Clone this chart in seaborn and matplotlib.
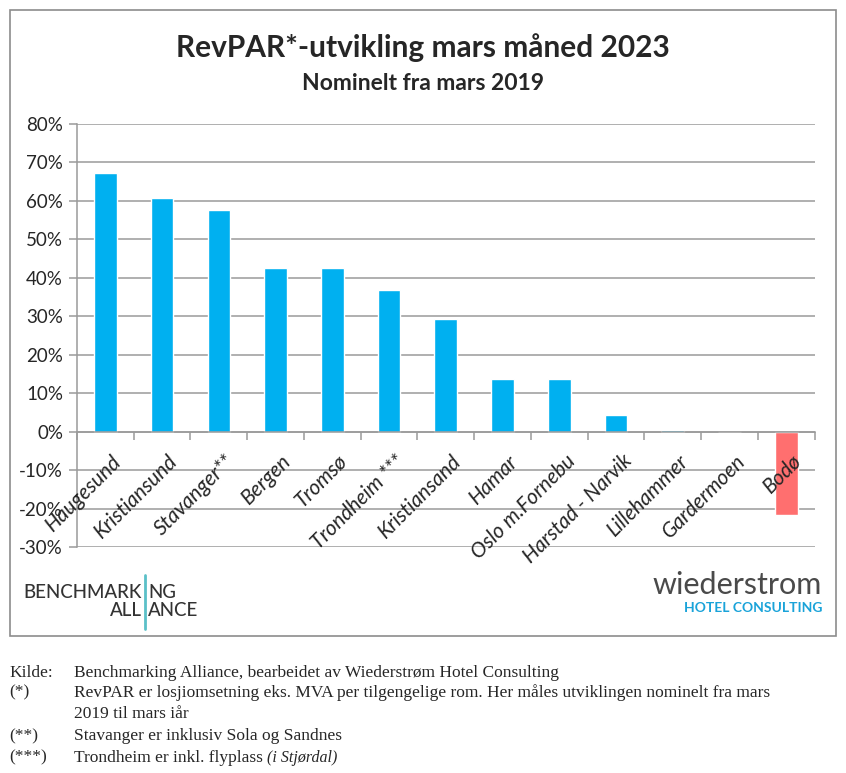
import matplotlib.pyplot as plt
import matplotlib.patches as patches
import matplotlib.transforms as mtrans
from matplotlib.ticker import FuncFormatter, FixedLocator
import seaborn as sns
import pandas as pd
import numpy as np

# data
byer = ['Haugesund', 'Kristiansund', 'Stavanger**', 'Bergen', 'Tromsø', 'Trondheim ***',
        'Kristiansand', 'Hamar', 'Oslo m.Fornebu', 'Harstad - Narvik', 'Lillehammer',
        'Gardermoen', 'Bodø']
revpar_endring = [67.3, 60.8, 57.6, 42.6, 42.5, 36.8, 29.3, 13.7, 13.7, 4.3, 0.3, 0.0, -21.8]
y_ticks = [-30, -20, -10, 0, 10, 20, 30, 40, 50, 60, 70, 80]

sns.set_theme(style='white')
plt.rcParams['font.family'] = ['Lato', 'DejaVu Sans']

df = pd.DataFrame({'by': byer, 'endring': revpar_endring})
df['fortegn'] = np.where(df['endring'] < 0, 'neg', 'pos')

fig = plt.figure(figsize=(8.46, 7.73), dpi=100)
ax = fig.add_axes([0.091, 0.2924, 0.872, 0.5472])

sns.barplot(data=df, x='by', y='endring', hue='fortegn',
            palette={'pos': '#00B0F0', 'neg': '#FF6F6F'},
            dodge=False, width=0.4, legend=False, saturation=1, ax=ax)

ax.set_ylim(-30, 80)
ax.set_xlim(-0.5, len(byer) - 0.5)
ax.set_yticks(y_ticks)
ax.yaxis.set_major_formatter(FuncFormatter(lambda v, p: f'{v:.0f}%'))
ax.yaxis.grid(True, color='#9a9a9a', linewidth=1.1)
ax.set_axisbelow(True)
ax.set_xlabel('')
ax.set_ylabel('')

for s in ['top', 'right']:
    ax.spines[s].set_visible(False)
ax.spines['left'].set_color('#9a9a9a')
ax.spines['bottom'].set_color('#9a9a9a')
ax.spines['bottom'].set_position(('data', 0))
ax.spines['bottom'].set_linewidth(1.1)
ax.spines['left'].set_linewidth(1.1)

# ticks at category boundaries on the zero line
ax.xaxis.set_major_locator(FixedLocator(np.arange(len(byer) + 1) - 0.5))
ax.set_xticklabels([])
ax.tick_params(axis='x', length=6, color='#9a9a9a', width=1.1, direction='out', bottom=True)
ax.tick_params(axis='y', length=6, color='#9a9a9a', width=1.1, left=True, labelsize=13.5, pad=4)

# category labels drawn on top of the bars (like Excel)
lab_tr = mtrans.offset_copy(ax.transData, fig=fig, x=4, y=-14, units='points')
for i, navn in enumerate(byer):
    ax.text(i, 0, navn, transform=lab_tr, rotation=45, ha='right', va='top',
            rotation_mode='anchor', fontsize=15, fontstyle='italic', zorder=5)

# titles
fig.text(0.5, 0.939, 'RevPAR*-utvikling mars måned 2023', ha='center', va='center',
         fontsize=21.5, fontweight='bold')
fig.text(0.5, 0.892, 'Nominelt fra mars 2019', ha='center', va='center',
         fontsize=16.5, fontweight='bold')

# border around the chart
fig.patches.append(patches.Rectangle((10 / 846, 1 - 636 / 773), 826 / 846, 626 / 773,
                                     transform=fig.transFigure, fill=False,
                                     edgecolor='#8c8c8c', linewidth=1.2))

# logos as text
bx = 145 / 846
logo = dict(fontsize=13.5, color='#333333', va='center', fontweight='medium')
fig.text(bx - 0.004, 0.233, 'BENCHMARK', ha='right', **logo)
fig.text(bx + 0.004, 0.233, 'NG', ha='left', **logo)
fig.text(bx - 0.004, 0.210, 'ALL', ha='right', **logo)
fig.text(bx + 0.004, 0.210, 'ANCE', ha='left', **logo)
fig.add_artist(plt.Line2D([bx, bx], [0.186, 0.256], transform=fig.transFigure,
                          color='#5bc0c8', linewidth=2))
fig.text(0.972, 0.243, 'wiederstrom', fontsize=22, color='#4a4a4a', ha='right', va='center')
fig.text(0.972, 0.213, 'HOTEL CONSULTING', fontsize=10, color='#1aa3d9',
         ha='right', va='center', fontweight='bold')

# footnotes
serif = ['Liberation Serif', 'DejaVu Serif']
fn = 12.5
rows = [
    (0.130, 'Kilde:', 'Benchmarking Alliance, bearbeidet av Wiederstrøm Hotel Consulting'),
    (0.104, '(*)', 'RevPAR er losjiomsetning eks. MVA per tilgengelige rom. Her måles utviklingen nominelt fra mars'),
    (0.076, '', '2019 til mars iår'),
    (0.048, '(**)', 'Stavanger er inklusiv Sola og Sandnes'),
]
for y, a, b in rows:
    fig.text(0.011, y, a, fontsize=fn, family=serif, va='center')
    fig.text(0.087, y, b, fontsize=fn, family=serif, va='center')
fig.text(0.011, 0.020, '(***)', fontsize=fn, family=serif, va='center')
t = fig.text(0.087, 0.020, 'Trondheim er inkl. flyplass ', fontsize=fn, family=serif, va='center')
fig.canvas.draw()
bb = t.get_window_extent().transformed(fig.transFigure.inverted())
fig.text(bb.x1, 0.020, '(i Stjørdal)', fontsize=fn - 1, family=serif, style='italic', va='center')

plt.savefig('out.png', dpi=100, facecolor='white')
